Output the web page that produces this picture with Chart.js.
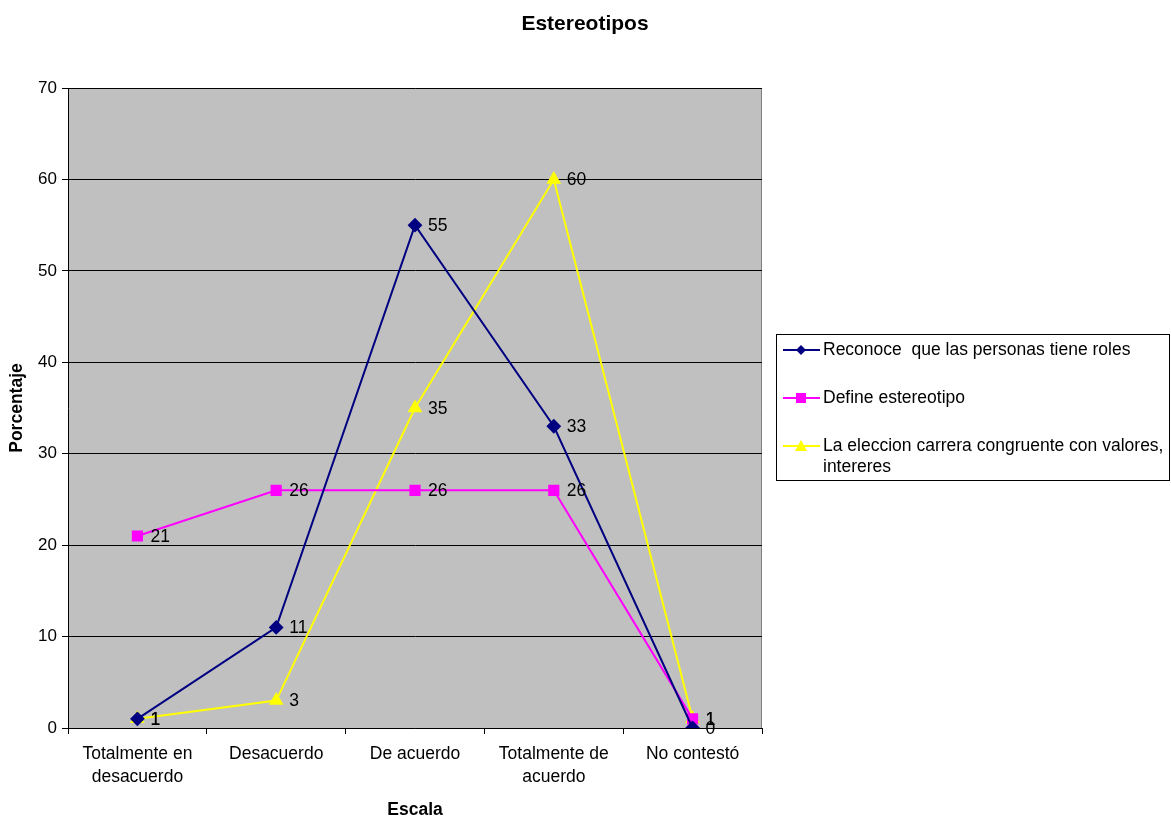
<!DOCTYPE html>
<html>
<head>
<meta charset="utf-8">
<script src="https://cdn.jsdelivr.net/npm/chart.js@4"></script>
<style>
  html, body { margin: 0; padding: 0; background: #fff; }
  canvas { display: block; }
</style>
</head>
<body>
<canvas id="chart" width="1171" height="818"></canvas>
<script>
const categories = [
  ["Totalmente en", "desacuerdo"],
  "Desacuerdo",
  "De acuerdo",
  ["Totalmente de", "acuerdo"],
  "No contestó"
];
const seriesNames = [
  "Reconoce  que las personas tiene roles",
  "Define estereotipo",
  ["La eleccion carrera congruente con valores,", "intereres"]
];
const reconoce = [1, 11, 55, 33, 0];
const define = [21, 26, 26, 26, 1];
const eleccion = [1, 3, 35, 60, 1];

const FONT = "'Liberation Sans', Arial, sans-serif";

// grey plot background + border
const plotBg = {
  id: "plotBg",
  beforeDraw(chart) {
    const { ctx, chartArea: a } = chart;
    ctx.save();
    ctx.fillStyle = "#C0C0C0";
    ctx.fillRect(a.left, a.top, a.right - a.left, a.bottom - a.top);
    ctx.strokeStyle = "#808080";
    ctx.lineWidth = 1;
    ctx.beginPath();
    ctx.moveTo(a.left, a.top + 0.5);
    ctx.lineTo(a.right - 0.5, a.top + 0.5);
    ctx.lineTo(a.right - 0.5, a.bottom);
    ctx.stroke();
    ctx.restore();
  }
};

// value labels to the right of each point
const valueLabels = {
  id: "valueLabels",
  afterDatasetsDraw(chart) {
    const ctx = chart.ctx;
    ctx.save();
    ctx.font = "17.5px " + FONT;
    ctx.fillStyle = "#000";
    ctx.textBaseline = "middle";
    ctx.textAlign = "left";
    chart.data.datasets.forEach((ds, i) => {
      chart.getDatasetMeta(i).data.forEach((pt, j) => {
        ctx.fillText(String(ds.data[j]), pt.x + 13, pt.y + 1);
      });
    });
    ctx.restore();
  }
};

// titles and legend box
const decorations = {
  id: "decorations",
  afterDraw(chart) {
    const { ctx, chartArea: a } = chart;
    ctx.save();
    ctx.fillStyle = "#000";
    ctx.textAlign = "center";
    ctx.textBaseline = "middle";
    ctx.font = "bold 21px " + FONT;
    ctx.fillText("Estereotipos", 585, 24);
    ctx.font = "bold 17.5px " + FONT;
    ctx.fillText("Escala", (a.left + a.right) / 2, 810);
    ctx.translate(17, (a.top + a.bottom) / 2);
    ctx.rotate(-Math.PI / 2);
    ctx.fillText("Porcentaje", 0, 0);
    ctx.restore();

    // legend
    ctx.save();
    ctx.strokeStyle = "#000";
    ctx.lineWidth = 1;
    ctx.strokeRect(776.5, 334.5, 393, 146);
    ctx.font = "17.5px " + FONT;
    ctx.textAlign = "left";
    ctx.textBaseline = "middle";
    const rows = [350, 398, 446];
    chart.data.datasets.forEach((ds, i) => {
      const y = rows[i];
      ctx.strokeStyle = ds.borderColor;
      ctx.lineWidth = 2;
      ctx.beginPath();
      ctx.moveTo(783, y);
      ctx.lineTo(820, y);
      ctx.stroke();
      ctx.fillStyle = ds.backgroundColor;
      ctx.beginPath();
      if (ds.pointStyle === "rectRot") {
        ctx.moveTo(801, y - 5); ctx.lineTo(806, y); ctx.lineTo(801, y + 5); ctx.lineTo(796, y);
      } else if (ds.pointStyle === "rect") {
        ctx.rect(796, y - 5, 10, 10);
      } else {
        ctx.moveTo(801, y - 6); ctx.lineTo(807, y + 5); ctx.lineTo(795, y + 5);
      }
      ctx.closePath();
      ctx.fill();
      ctx.fillStyle = "#000";
      const lines = Array.isArray(seriesNames[i]) ? seriesNames[i] : [seriesNames[i]];
      lines.forEach((t, k) => ctx.fillText(t, 823, y + k * 21));
    });
    ctx.restore();
  }
};

new Chart(document.getElementById("chart"), {
  type: "line",
  data: {
    labels: categories,
    datasets: [
      {
        label: "Reconoce  que las personas tiene roles",
        data: reconoce,
        borderColor: "#000080",
        backgroundColor: "#000080",
        pointStyle: "rectRot",
        pointRadius: 6,
        borderWidth: 2
      },
      {
        label: "Define estereotipo",
        data: define,
        borderColor: "#FF00FF",
        backgroundColor: "#FF00FF",
        pointStyle: "rect",
        pointRadius: 6.5,
        borderWidth: 2
      },
      {
        label: "La eleccion carrera congruente con valores, intereres",
        data: eleccion,
        borderColor: "#FFFF00",
        backgroundColor: "#FFFF00",
        pointStyle: "triangle",
        pointRadius: 6.5,
        borderWidth: 2
      }
    ]
  },
  options: {
    responsive: false,
    animation: false,
    layout: { padding: { top: 88, right: 409, left: 0, bottom: 0 } },
    plugins: {
      legend: { display: false },
      title: { display: false },
      tooltip: { enabled: false }
    },
    elements: { line: { tension: 0 }, point: { borderWidth: 0 } },
    scales: {
      x: {
        offset: true,
        afterFit(s) { s.height = 90; },
        grid: {
          offset: true,
          drawOnChartArea: false,
          drawTicks: true,
          tickLength: 6,
          color: "#000"
        },
        border: { color: "#000", width: 1 },
        ticks: {
          color: "#000",
          font: { family: FONT, size: 17.5, lineHeight: 1.3 },
          padding: 9,
          maxRotation: 0,
          autoSkip: false
        }
      },
      y: {
        min: 0,
        max: 70,
        afterFit(s) { s.width = 68; },
        grid: {
          color: "#000",
          tickLength: 6,
          drawTicks: true
        },
        border: { color: "#000", width: 1 },
        ticks: {
          stepSize: 10,
          color: "#000",
          font: { family: FONT, size: 17 },
          padding: 5
        }
      }
    }
  },
  plugins: [plotBg, valueLabels, decorations]
});
</script>
</body>
</html>
